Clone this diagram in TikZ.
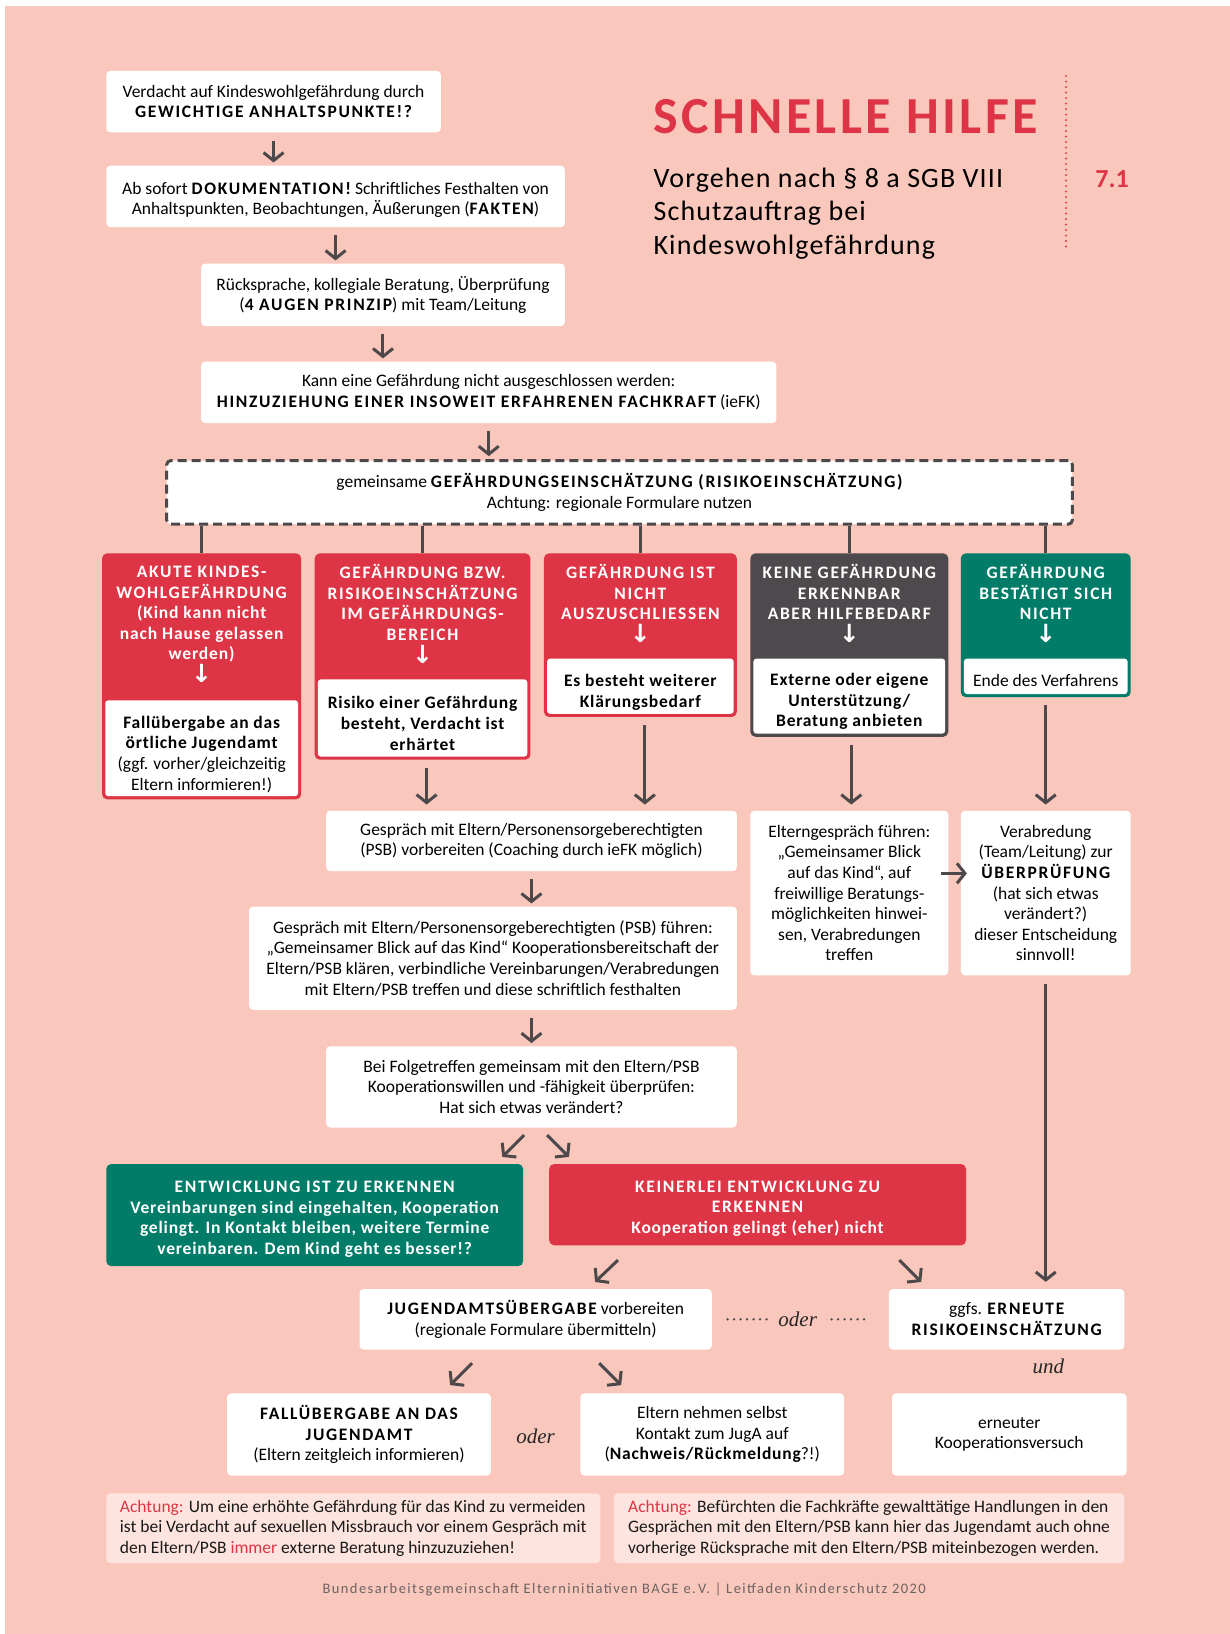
\documentclass[tikz,border=0pt]{standalone}
\usepackage{fontspec}
\setmainfont{Carlito}
\newfontfamily\bfam{Carlito}[LetterSpace=4.5]
\newfontfamily\hfam{Carlito}[LetterSpace=5]
\newfontfamily\capsfam{Carlito}[LetterSpace=9.5]
\newfontfamily\titlefam{Carlito}[LetterSpace=6.5]
\newfontfamily\subfam{Carlito}[LetterSpace=4]
\newfontfamily\footfam{Carlito}[LetterSpace=10]
\newfontfamily\arrowfont{DejaVu Sans}
\newfontfamily\serifit{Liberation Serif}
\usetikzlibrary{arrows.meta,calc}

\definecolor{salmon}{HTML}{F9C7BB}
\definecolor{kred}{HTML}{DD3545}
\definecolor{kgreen}{HTML}{007C68}
\definecolor{kgray}{HTML}{4E494D}
\definecolor{agray}{HTML}{4D494B}
\definecolor{achbg}{HTML}{FDE4DE}
\definecolor{footc}{HTML}{6E6264}

\newcommand\cp[1]{{\capsfam\bfseries #1}}
\newcommand\tb[1]{{\bfam\bfseries #1}}
\newcommand\bodyf{\fontsize{17.5}{20.6}\selectfont}
\newcommand\dn{\raisebox{-2pt}[12pt][0pt]{\arrowfont\bfseries\fontsize{25}{25}\selectfont ↓}}
\newcommand\sh[1]{\rule{0pt}{#1}}

\begin{document}
\begin{tikzpicture}[x=1.0424pt,y=-1.0424pt,
  pos/.style n args={4}{at={({(#1+#3)/2},{(#2+#4)/2})}, minimum width={(#3-#1)*1.0424pt}, minimum height={(#4-#2)*1.0424pt}},
  box/.style={fill=white, rounded corners=4pt, inner sep=0pt, align=center, font=\bodyf, text=black},
  catbox/.style={rounded corners=5pt, inner sep=0pt},
  inbox/.style={fill=white, rounded corners=3pt, inner sep=0pt, align=center, font=\bodyf, text=black},
  hdr/.style={align=center, text=white, font=\bodyf\hfam\bfseries, inner sep=0pt},
  colbox/.style={rounded corners=5pt, inner sep=0pt, align=center, text=white, font=\bodyf\bfam\bfseries},
  achbox/.style={fill=achbg, rounded corners=4pt, inner sep=0pt, align=left, font=\bodyf, text=black!90},
  conn/.style={draw=agray, line width=3pt},
  arr/.style={conn, -{Straight Barb[length=8pt,width=20pt]}, shorten <=8pt, shorten >=3pt},
  darr/.style={conn, -{Straight Barb[length=8pt,width=20pt]}},
  alt/.style={font=\serifit\itshape\fontsize{21}{21}\selectfont, text=black!85, inner sep=0pt},
  dotline/.style={draw=agray, line width=2.6pt, line cap=round, dash pattern=on 0pt off 6.5pt},
]
\useasboundingbox (0,0) rectangle (1180,1568);
\fill[white] (0,0) rectangle (1180,1568);
\fill[salmon] (5,6) rectangle (1180,1568);

% title block
\node[anchor=base west, inner sep=0pt, text=kred, font=\titlefam\fontsize{52}{52}\selectfont\bfseries] (title) at (627,128) {SCHNELLE HILFE};
\node[anchor=base west, inner sep=0pt, font=\subfam\fontsize{28}{33}\selectfont] (sub1) at (627,180) {Vorgehen nach § 8 a SGB VIII};
\node[anchor=base west, inner sep=0pt, font=\subfam\fontsize{28}{33}\selectfont] (sub2) at (627,212) {Schutzauftrag bei};
\node[anchor=base west, inner sep=0pt, font=\subfam\fontsize{28}{33}\selectfont] (sub3) at (627,244) {Kindeswohlgefährdung};
\node[anchor=base west, inner sep=0pt, text=kred, font=\fontsize{26}{26}\selectfont\bfseries] (num) at (1051,180) {7.1};
\coordinate (dt) at (1023,73);
\coordinate (db) at (1023,240);
\draw[kred, line width=2.2pt, line cap=round, dash pattern=on 0pt off 5.5pt] (dt) -- (db);

% top chain
\node[box, pos={102}{68}{423}{127}] (b1) {Verdacht auf Kindeswohlgefährdung durch\\\cp{GEWICHTIGE ANHALTSPUNKTE!?}};
\node[box, pos={102}{159}{542}{218}] (b2) {\sh{19pt}Ab sofort \cp{DOKUMENTATION!} Schriftliches Festhalten von\\Anhaltspunkten, Beobachtungen, Äußerungen (\cp{FAKTEN})};
\node[box, pos={193}{253}{542}{313}] (b3) {Rücksprache, kollegiale Beratung, Überprüfung\\(\cp{4 AUGEN PRINZIP}) mit Team/Leitung};
\node[box, pos={193}{347}{745}{406}] (b4) {Kann eine Gefährdung nicht ausgeschlossen werden:\\\cp{HINZUZIEHUNG EINER INSOWEIT ERFAHRENEN FACHKRAFT} (ieFK)};
\node[box, draw=agray, line width=3pt, dash pattern=on 9pt off 5pt, pos={160}{442}{1029}{503}] (gef) {gemeinsame \cp{GEFÄHRDUNGSEINSCHÄTZUNG (RISIKOEINSCHÄTZUNG)}\\Achtung: regionale Formulare nutzen};

\draw[arr] (b1.south) -- (b1.south |- b2.north);
\draw[arr] (b2.south) -- (b2.south |- b3.north);
\draw[arr] (b3.south) -- (b3.south |- b4.north);
\draw[arr] (b4.south) -- (b4.south |- gef.north);

% category boxes
\node[catbox, fill=kred, pos={98}{531}{289}{767}] (A) {};
\node[inbox, pos={101}{672}{286}{764}] (Aw) {\sh{24.5pt}\tb{Fallübergabe an das}\\\tb{örtliche Jugendamt}\\(ggf. vorher/gleichzeitig\\Eltern informieren!)};
\node[hdr] (Ah) at (193.5,598) {\cp{AKUTE KINDES-}\\\cp{WOHLGEFÄHRDUNG}\\(Kind kann nicht\\nach Hause gelassen\\werden)\\\dn};

\node[catbox, fill=kred, pos={302}{531}{509}{729}] (B) {};
\node[inbox, pos={305}{652}{506}{726}] (Bw) {\sh{23pt}\tb{Risiko einer Gefährdung}\\\tb{besteht, Verdacht ist}\\\tb{erhärtet}};
\node[hdr] (Bh) at (405.5,588) {\cp{GEFÄHRDUNG BZW.}\\\cp{RISIKOEINSCHÄTZUNG}\\\cp{IM GEFÄHRDUNGS-}\\\cp{BEREICH}\\\dn};

\node[catbox, fill=kred, pos={522}{531}{707}{688}] (C) {};
\node[inbox, pos={525}{632}{704}{685}] (Cw) {\sh{24.5pt}\tb{Es besteht weiterer}\\\tb{Klärungsbedarf}};
\node[hdr] (Ch) at (614.5,578) {\cp{GEFÄHRDUNG IST}\\\cp{NICHT}\\\cp{AUSZUSCHLIESSEN}\\\dn};

\node[catbox, fill=kgray, pos={720}{531}{910}{707}] (D) {};
\node[inbox, pos={723}{632}{907}{704}] (Dw) {\sh{23.5pt}\tb{Externe oder eigene}\\\tb{Unterstützung/}\\\tb{Beratung anbieten}};
\node[hdr] (Dh) at (815,578) {\cp{KEINE GEFÄHRDUNG}\\\cp{ERKENNBAR}\\\cp{ABER HILFEBEDARF}\\\dn};

\node[catbox, fill=kgreen, pos={922}{531}{1085}{669}] (E) {};
\node[inbox, pos={925}{632}{1082}{666}] (Ew) {\sh{21pt}Ende des Verfahrens};
\node[hdr] (Eh) at (1003.5,578) {\cp{GEFÄHRDUNG}\\\cp{BESTÄTIGT SICH}\\\cp{NICHT}\\\dn};

\foreach \n in {A,B,C,D,E} {\draw[conn] (\n.north |- gef.south) -- (\n.north);}

% middle
\node[box, pos={313}{778}{707}{836}] (vorb) {Gespräch mit Eltern/Personensorgeberechtigten\\(PSB) vorbereiten (Coaching durch ieFK möglich)};
\node[box, pos={239}{870}{707}{969}] (fuehr) {Gespräch mit Eltern/Personensorgeberechtigten (PSB) führen:\\„Gemeinsamer Blick auf das Kind“ Kooperationsbereitschaft der\\Eltern/PSB klären, verbindliche Vereinbarungen/Verabredungen\\mit Eltern/PSB treffen und diese schriftlich festhalten};
\node[box, pos={313}{1004}{707}{1082}] (folge) {Bei Folgetreffen gemeinsam mit den Eltern/PSB\\Kooperationswillen und -fähigkeit überprüfen:\\Hat sich etwas verändert?};
\node[box, pos={720}{778}{910}{936}] (elt) {Elterngespräch führen:\\„Gemeinsamer Blick\\auf das Kind“, auf\\freiwillige Beratungs-\\möglichkeiten hinwei-\\sen, Verabredungen\\treffen};
\node[box, pos={922}{778}{1085}{936}] (verab) {Verabredung\\(Team/Leitung) zur\\\cp{ÜBERPRÜFUNG}\\(hat sich etwas\\verändert?)\\dieser Entscheidung\\sinnvoll!};

\draw[arr, shorten >=6pt] ([xshift=4pt]B.south) -- ([xshift=4pt]B.south |- vorb.north);
\draw[arr, shorten >=6pt] ([xshift=4.5pt]C.south) -- ([xshift=4.5pt]C.south |- vorb.north);
\draw[arr, shorten >=6pt] ([xshift=2pt]D.south) -- ([xshift=2pt]D.south |- elt.north);
\draw[arr, shorten >=6pt] (E.south) -- (E.south |- verab.north);
\draw[arr] (vorb.south) -- (vorb.south |- fuehr.north);
\draw[arr] (folge.north |- fuehr.south) -- (folge.north);
\draw[darr] ($(elt.east)+(-7,-19)$) -- ($(verab.west)+(6,-19)$);

% outcome boxes
\node[colbox, fill=kgreen, pos={102}{1117}{502}{1215}] (entw) {\sh{19.5pt}\cp{ENTWICKLUNG IST ZU ERKENNEN}\\Vereinbarungen sind eingehalten, Kooperation\\gelingt. In Kontakt bleiben, weitere Termine\\vereinbaren. Dem Kind geht es besser!?};
\node[colbox, fill=kred, pos={527}{1117}{927}{1195}] (kein) {\sh{19.5pt}\cp{KEINERLEI ENTWICKLUNG ZU}\\\cp{ERKENNEN}\\Kooperation gelingt (eher) nicht};

\draw[darr] ($(folge.south)+(-7,7)$) -- ++(-21,21);
\draw[darr] ($(folge.south)+(15,7)$) -- ++(21,21);

\node[box, pos={345}{1237}{683}{1295}] (jug) {\cp{JUGENDAMTSÜBERGABE} vorbereiten\\(regionale Formulare übermitteln)};
\node[box, pos={853}{1237}{1079}{1295}] (ggfs) {ggfs. \cp{ERNEUTE}\\\cp{RISIKOEINSCHÄTZUNG}};

\draw[darr] ($(kein.south)+(-134,14)$) -- ++(-22,21);
\draw[darr] ($(kein.south)+(136,14)$) -- ++(21,21);
\draw[arr, shorten >=7pt] (verab.south) -- (verab.south |- ggfs.north);

\draw[dotline] ($(jug.east)+(15,0)$) -- node[alt, fill=salmon, inner xsep=9pt, inner ysep=4pt] (oder1) {oder} ($(ggfs.west)+(-20,0)$);
\node[alt] (und) at (1006,1311) {und};

\node[box, pos={218}{1337}{471}{1416}] (fall) {\cp{FALLÜBERGABE AN DAS}\\\cp{JUGENDAMT}\\(Eltern zeitgleich informieren)};
\node[box, pos={557}{1337}{810}{1416}] (eltk) {Eltern nehmen selbst\\Kontakt zum JugA auf\\(\tb{Nachweis/Rückmeldung}?!)};
\node[box, pos={856}{1337}{1081}{1416}] (erneut) {erneuter\\Kooperationsversuch};
\node[alt] (oder2) at (514,1378) {oder};

\draw[darr] ($(jug.south)+(-61,13)$) -- ++(-21,21);
\draw[darr] ($(jug.south)+(61,13)$) -- ++(21,21);

% notes
\node[achbox, pos={102}{1433}{576}{1500}] (ach1) {{\color{kred}Achtung:} Um eine erhöhte Gefährdung für das Kind zu vermeiden\\ist bei Verdacht auf sexuellen Missbrauch vor einem Gespräch mit\\den Eltern/PSB {\color{kred}immer} externe Beratung hinzuzuziehen!};
\node[achbox, pos={589}{1433}{1079}{1500}] (ach2) {{\color{kred}Achtung:} Befürchten die Fachkräfte gewalttätige Handlungen in den\\Gesprächen mit den Eltern/PSB kann hier das Jugendamt auch ohne\\vorherige Rücksprache mit den Eltern/PSB miteinbezogen werden.};

\node[text=footc, inner sep=0pt, font=\footfam\fontsize{14.5}{15}\selectfont] (foot) at (599,1525) {Bundesarbeitsgemeinschaft Elterninitiativen BAGE e.\,V. | Leitfaden Kinderschutz 2020};
\end{tikzpicture}
\end{document}
